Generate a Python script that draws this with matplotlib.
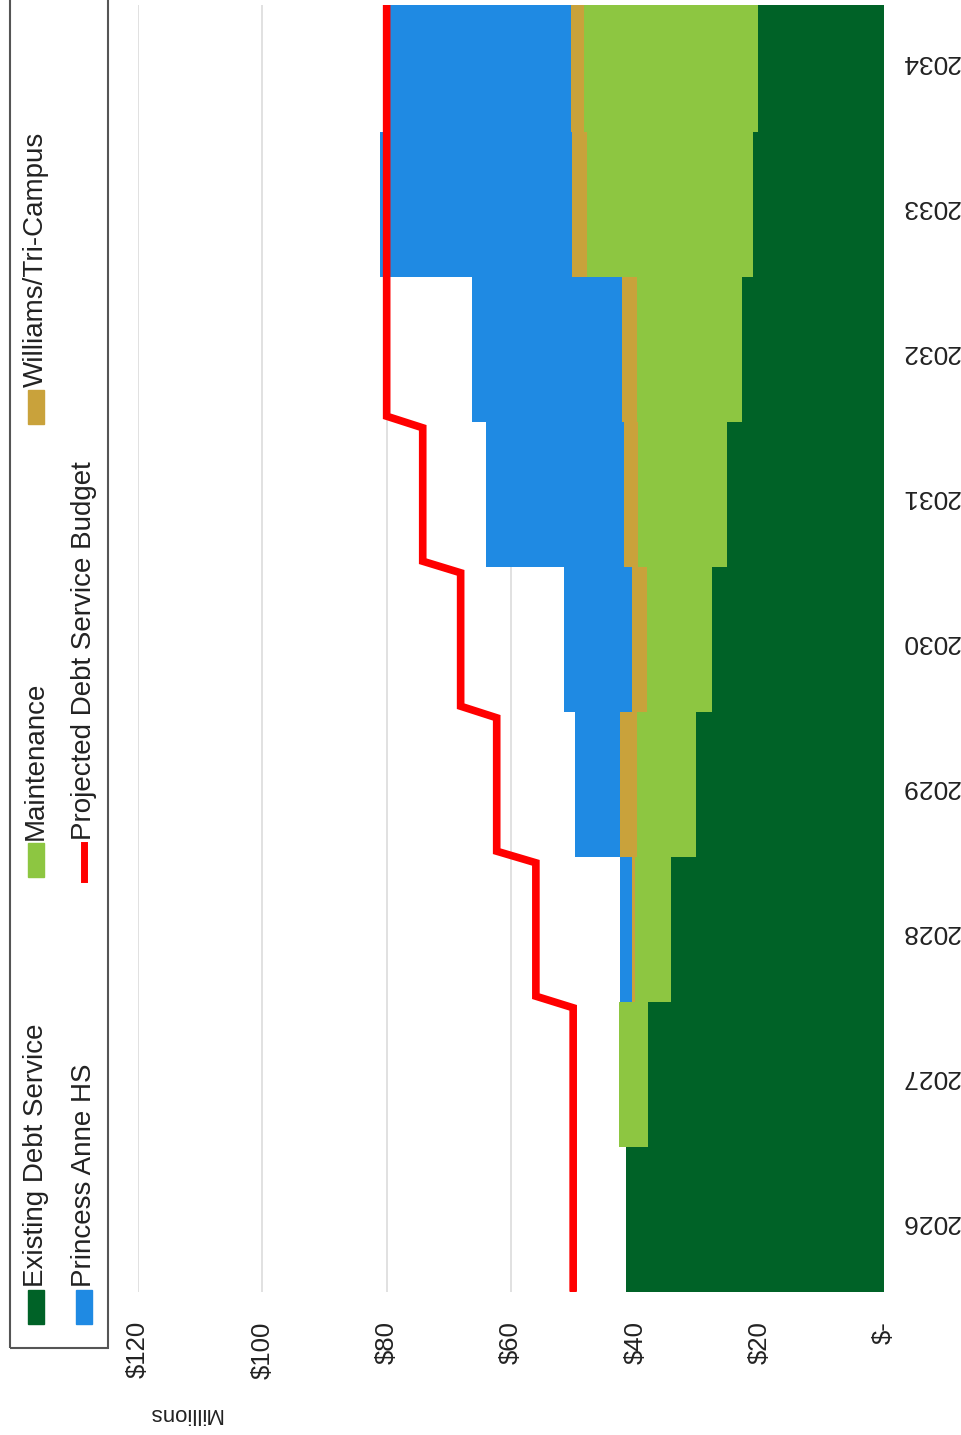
import matplotlib
matplotlib.use("Agg")
import matplotlib.pyplot as plt
from matplotlib.patches import Rectangle
from matplotlib.lines import Line2D
import numpy as np

plt.rcParams['font.family'] = ['Liberation Sans', 'DejaVu Sans']

# debt service by year, $ millions
years = ['2026', '2027', '2028', '2029', '2030', '2031', '2032', '2033', '2034']
existing = [41.5, 37.9, 34.2, 30.3, 27.6, 25.3, 22.9, 21.0, 20.2]
maintenance = [0.0, 4.8, 5.8, 9.5, 10.6, 14.2, 16.9, 26.8, 28.1]
williams = [0.0, 0.0, 0.6, 2.6, 2.4, 2.4, 2.3, 2.4, 2.1]
princess = [0.0, 0.0, 1.9, 7.3, 10.8, 22.1, 24.2, 30.8, 29.0]
budget = [50.0, 50.0, 56.0, 62.3, 68.1, 74.2, 80.0, 80.0, 80.0]

value_ticks = [0, 20, 40, 60, 80, 100, 120]
value_labels = ['$-', '$20', '$40', '$60', '$80', '$100', '$120']

c_exist = '#006227'
c_maint = '#8dc641'
c_will = '#c9a23b'
c_pa = '#1f8ae3'
c_budget = '#ff0000'

W, H = 961, 1435
fig = plt.figure(figsize=(W / 100, H / 100), dpi=100)

# chart is laid out sideways: values run right-to-left, years bottom-to-top
ax = fig.add_axes([138 / W, 1 - 1292 / H, (884 - 138) / W, (1292 - 5) / H])
pos = np.arange(len(years))

left = np.zeros(len(years))
for vals, col in [(existing, c_exist), (maintenance, c_maint),
                  (williams, c_will), (princess, c_pa)]:
    ax.barh(pos, vals, left=left, height=1.0, color=col, edgecolor='none', zorder=2)
    left += np.array(vals)

# budget line: flat across each year, short slant between years
bx, by = [], []
for i, v in enumerate(budget):
    bx += [i - 0.46, i + 0.46]
    by += [v, v]
bx[0] = -0.49
bx[-1] = len(years)
ax.plot(by, bx, color=c_budget, lw=5.5, solid_capstyle='round',
        solid_joinstyle='miter', zorder=3)

ax.set_xlim(120, 0)
ax.set_ylim(-0.5, 8.376)
ax.set_xticks(value_ticks)
ax.set_xticklabels(value_labels, rotation=90, fontsize=18.5, color='#222222')
ax.tick_params(axis='x', length=0, pad=21)
ax.grid(axis='x', color='#dcdcdc', lw=1.2, zorder=0)
ax.set_axisbelow(True)

ax.yaxis.tick_right()
ax.set_yticks(pos)
ax.set_yticklabels(years, rotation=180, fontsize=19, color='#222222')
ax.tick_params(axis='y', length=0, pad=12)
for s in ax.spines.values():
    s.set_visible(False)

fig.text(185 / W, 1 - 1413 / H, 'Millions', rotation=180, ha='center',
         va='center', fontsize=16, color='#222222')

# legend box on the left, entries rotated with the chart
def fx(px):
    return px / W

def fy(py):
    return 1 - py / H

fig.patches.append(Rectangle((fx(10), fy(1348)), fx(98), 1348 / H + 0.02,
                             transform=fig.transFigure, fill=False,
                             edgecolor='#555555', lw=1.5))

entries = [
    ('Existing Debt Service', c_exist, 36, 1290, 'patch'),
    ('Maintenance', c_maint, 36, 843, 'patch'),
    ('Williams/Tri-Campus', c_will, 36, 390, 'patch'),
    ('Princess Anne HS', c_pa, 84, 1290, 'patch'),
    ('Projected Debt Service Budget', c_budget, 84, 843, 'line'),
]
for label, col, cx, y0, kind in entries:
    if kind == 'patch':
        fig.patches.append(Rectangle((fx(cx - 8), fy(y0 + 34)), fx(16), 34 / H,
                                     transform=fig.transFigure, color=col))
    else:
        fig.lines.append(Line2D([fx(cx), fx(cx)], [fy(y0 + 36), fy(y0 + 2)],
                                transform=fig.transFigure, color=col, lw=5))
    fig.text(fx(cx), fy(y0 - 3), label, rotation=90, ha='center', va='bottom',
             fontsize=20, color='#222222')

fig.savefig('out.png', dpi=100, facecolor='white')
